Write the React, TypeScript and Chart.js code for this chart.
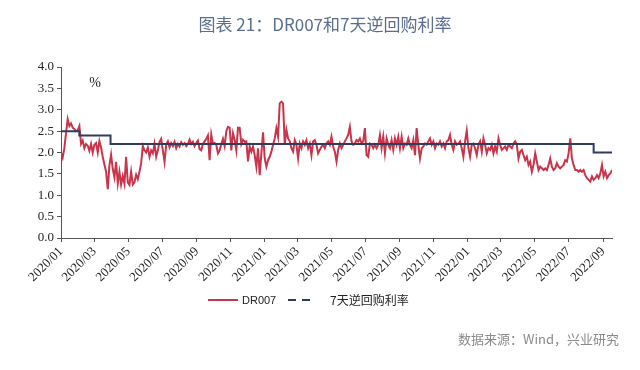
import { useEffect, useRef } from 'react';
import { Chart, registerables } from 'chart.js';

Chart.register(...registerables);

const TITLE = '图表 21：DR007和7天逆回购利率';
const SOURCE = '数据来源：Wind，兴业研究';
const UNIT = '%';
const SERIES_NAMES = ['DR007', '7天逆回购利率'];

// DR007 sampled every 3 calendar days from 2020-01-01
const DR007_START = '2020-01-01';
const DR007_STEP_DAYS = 3;
const dr007Values = [
  2.00, 1.88, 2.10, 2.45, 2.78, 2.62, 2.68, 2.58, 2.55, 2.50,
  2.52, 2.62, 2.20, 2.28, 2.10, 2.20, 2.16, 2.04, 2.20, 2.00,
  2.18, 2.22, 2.00, 2.27, 2.12, 1.90, 1.72, 1.55, 1.14, 1.70,
  1.95, 1.62, 1.42, 1.78, 1.28, 1.55, 1.25, 1.45, 1.27, 1.90,
  1.30, 1.24, 1.55, 1.25, 1.30, 1.48, 1.38, 1.55, 1.75, 2.15,
  2.05, 2.00, 2.12, 1.90, 2.05, 1.98, 2.20, 1.90, 2.05, 2.25,
  2.32, 2.05, 1.78, 2.18, 2.26, 2.12, 2.22, 2.15, 2.25, 2.10,
  2.20, 2.14, 2.24, 2.18, 2.22, 2.15, 2.20, 2.30, 2.20, 2.25,
  2.15, 2.22, 2.28, 2.08, 2.05, 2.20, 2.26, 2.32, 2.40, 1.82,
  2.42, 2.20, 2.22, 2.18, 1.98, 2.05, 2.20, 2.32, 2.15, 2.50,
  2.60, 2.58, 2.05, 2.45, 2.30, 2.05, 2.58, 2.58, 2.20, 2.30,
  2.25,
  2.26, 1.79, 2.14, 2.02, 2.14, 1.94, 1.67, 2.10, 1.47, 1.98,
  2.47, 1.86, 1.67, 1.82, 1.90, 2.02, 2.18, 2.33, 2.57, 2.37,
  3.15, 3.19, 3.15, 2.18, 2.53, 2.33, 2.26, 2.10, 2.02, 2.29,
  2.18, 1.86, 2.21, 2.10, 2.26, 2.18, 2.29, 2.10, 2.21, 1.94,
  2.26, 2.29, 2.18, 1.98, 2.06, 2.14, 2.18, 2.10, 2.21, 2.26,
  2.18, 2.37, 2.14, 2.02, 1.79, 2.06, 2.21, 2.10, 2.18, 2.26,
  2.33, 2.41, 2.60, 2.26, 2.18, 2.21, 2.29, 2.26, 2.33, 2.21,
  2.26, 2.57, 1.94, 1.90, 2.21, 2.18, 2.10, 2.18, 2.10, 2.18,
  2.41, 2.10, 2.37, 1.98, 2.33, 2.18, 2.10, 2.29, 2.06, 2.33,
  2.18, 2.37, 2.10, 2.37, 2.10, 2.21, 2.18, 2.33, 2.18, 2.10,
  2.29, 1.94, 2.57, 2.18, 1.86, 2.10, 2.14, 2.21, 2.18, 2.26,
  2.33, 2.18, 2.26, 2.10, 2.21, 2.18, 2.26, 2.14, 2.21, 2.10,
  2.26, 2.29, 2.41, 2.18, 2.06, 2.26, 2.18, 2.21, 2.26, 2.10,
  1.90, 2.26, 2.51, 2.10, 1.90, 2.18, 2.21, 2.10, 1.94, 2.18,
  2.26, 2.02, 2.33, 2.18, 1.98, 2.10, 2.06, 2.18, 1.98, 2.14,
  2.02, 2.33, 2.18, 2.06, 2.10, 2.14, 2.06, 2.18, 2.14, 2.10,
  2.21, 2.26, 2.18, 1.86, 2.02, 2.06, 1.94, 1.82, 1.90, 1.71,
  1.79, 1.55, 1.71, 1.98, 1.79, 1.59, 1.67, 1.63, 1.59, 1.63,
  1.59, 1.71, 1.86, 1.67, 1.59, 1.63, 1.75, 1.67, 1.63, 1.67,
  1.71, 1.82, 1.79, 1.98, 2.33, 1.86, 1.71, 1.59, 1.59, 1.55,
  1.59, 1.55, 1.59, 1.47, 1.40, 1.36, 1.32, 1.44, 1.36, 1.40,
  1.47, 1.40, 1.51, 1.71, 1.44, 1.55, 1.40, 1.47, 1.51, 1.59,
];

// 7-day reverse repo rate: change dates and levels
const repoDates = ['2020-01-01', '2020-02-03', '2020-03-30', '2022-08-15', '2022-09-17'];
const repoValues = [2.5, 2.4, 2.2, 2.0, 2.0];

const xTickLabels = [
  '2020/01', '2020/03', '2020/05', '2020/07', '2020/09', '2020/11',
  '2021/01', '2021/03', '2021/05', '2021/07', '2021/09', '2021/11',
  '2022/01', '2022/03', '2022/05', '2022/07', '2022/09',
];
const X_END = '2022-09-17';
const Y_MIN = 0;
const Y_MAX = 4;
const Y_STEP = 0.5;

const BASE = Date.UTC(2020, 0, 1);
const dayOf = (s: string) => {
  const [y, m, d] = s.split(/[-/]/).map(Number);
  return (Date.UTC(y, m - 1, d || 1) - BASE) / 86400000;
};

export default function App() {
  const ref = useRef<HTMLCanvasElement | null>(null);

  useEffect(() => {
    document.body.style.margin = '0';
    const canvas = ref.current;
    if (!canvas) return;

    const start = dayOf(DR007_START);
    const drData = dr007Values.map((v, i) => ({ x: start + i * DR007_STEP_DAYS, y: v }));
    const repoData = repoDates.map((d, i) => ({ x: dayOf(d), y: repoValues[i] }));
    const tickDays = xTickLabels.map((l) => dayOf(l));

    const RED = '#c8354b';
    const NAVY = '#2e3d5c';
    const AXIS = '#555';

    const overlay = {
      id: 'overlay',
      afterDraw(chart: any) {
        const ctx = chart.ctx as CanvasRenderingContext2D;
        const area = chart.chartArea;
        ctx.save();
        // title
        ctx.fillStyle = '#5b6e8d';
        ctx.font = '17px "Noto Sans CJK SC", "Noto Sans", sans-serif';
        ctx.textAlign = 'center';
        ctx.textBaseline = 'middle';
        ctx.fillText(TITLE, 325, 25);
        // unit
        ctx.fillStyle = '#222';
        ctx.font = '14px "Liberation Serif", serif';
        ctx.fillText(UNIT, area.left + 34, area.top + 16);
        // source
        ctx.fillStyle = '#8a8a8a';
        ctx.font = '13px "Noto Sans CJK SC", "Noto Sans", sans-serif';
        ctx.textAlign = 'right';
        ctx.fillText(SOURCE, 619, 339);
        // legend
        const ly = 300;
        ctx.lineWidth = 2;
        ctx.strokeStyle = RED;
        ctx.beginPath();
        ctx.moveTo(208, ly);
        ctx.lineTo(238, ly);
        ctx.stroke();
        ctx.fillStyle = '#222';
        ctx.textAlign = 'left';
        ctx.font = '11px "Liberation Sans", sans-serif';
        ctx.fillText(SERIES_NAMES[0], 242, ly + 1);
        ctx.strokeStyle = NAVY;
        ctx.setLineDash([8, 6]);
        ctx.beginPath();
        ctx.moveTo(288, ly);
        ctx.lineTo(310, ly);
        ctx.stroke();
        ctx.setLineDash([]);
        ctx.font = '12px "Noto Sans CJK SC", sans-serif';
        ctx.fillText(SERIES_NAMES[1], 330, ly);
        ctx.restore();
      },
    };

    const chart = new Chart(canvas, {
      type: 'line',
      data: {
        datasets: [
          {
            label: SERIES_NAMES[0],
            data: drData,
            borderColor: RED,
            borderWidth: 2,
            pointRadius: 0,
            tension: 0,
            order: 1,
          },
          {
            label: SERIES_NAMES[1],
            data: repoData,
            borderColor: NAVY,
            borderWidth: 2,
            pointRadius: 0,
            stepped: true,
            order: 0,
          },
        ],
      },
      options: {
        responsive: false,
        animation: false,
        devicePixelRatio: 1,
        layout: { padding: { top: 67, left: 16, right: 28, bottom: 72 } },
        plugins: {
          legend: { display: false },
          title: { display: false },
          tooltip: { enabled: false },
        },
        scales: {
          x: {
            type: 'linear',
            min: 0,
            max: dayOf(X_END),
            afterBuildTicks: (scale: any) => {
              scale.ticks = tickDays.map((v) => ({ value: v }));
            },
            afterFit: (scale: any) => {
              scale.height = 60;
            },
            ticks: {
              autoSkip: false,
              maxRotation: 45,
              minRotation: 45,
              padding: 2,
              color: '#222',
              font: { family: '"Liberation Serif", serif', size: 13 },
              callback: (_v: any, i: number) => xTickLabels[i],
            },
            grid: {
              display: true,
              drawOnChartArea: false,
              drawTicks: true,
              tickLength: 4,
              color: AXIS,
            },
            border: { display: true, color: AXIS, width: 1 },
          },
          y: {
            min: Y_MIN,
            max: Y_MAX,
            afterFit: (scale: any) => {
              scale.width = 45;
            },
            ticks: {
              stepSize: Y_STEP,
              padding: 3,
              color: '#222',
              font: { family: '"Liberation Serif", serif', size: 13 },
              callback: (v: any) => Number(v).toFixed(1),
            },
            grid: {
              display: true,
              drawOnChartArea: false,
              drawTicks: true,
              tickLength: 4,
              color: AXIS,
            },
            border: { display: true, color: AXIS, width: 1 },
          },
        },
      },
      plugins: [overlay],
    } as any);

    return () => chart.destroy();
  }, []);

  return (
    <div style={{ width: 640, height: 370, background: '#fff' }}>
      <canvas ref={ref} width={640} height={370} style={{ display: 'block' }} />
    </div>
  );
}
